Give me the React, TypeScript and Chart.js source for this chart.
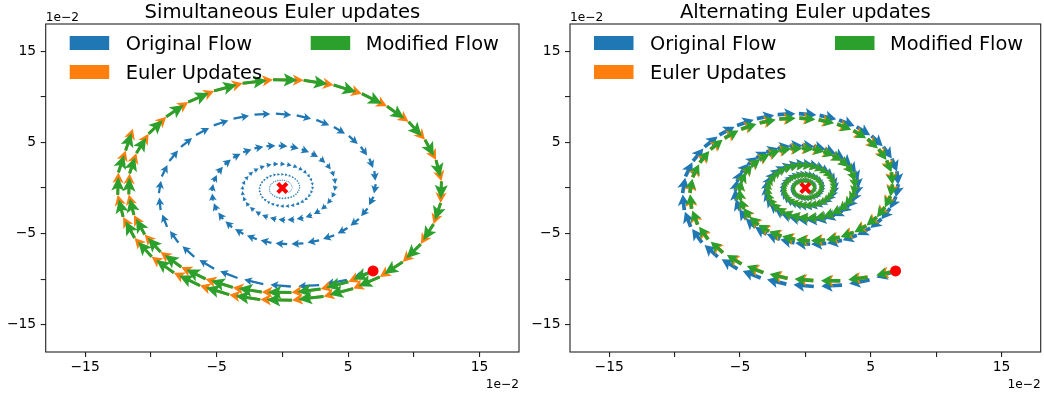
import React, { useEffect, useRef } from 'react';
import { Chart, registerables } from 'chart.js';

Chart.register(...registerables);

type P = [number, number];

// ---------- axis / text data ----------
const AXIS_MIN = -18;
const AXIS_MAX = 18;
const X_TICKS = [-15, -10, -5, 0, 5, 10, 15];
const X_TICK_LABELS = ['\u221215', '', '\u22125', '', '5', '', '15'];
const Y_TICKS = [-15, -10, -5, 0, 5, 10, 15];
const Y_TICK_LABELS = ['\u221215', '', '\u22125', '', '5', '', '15'];
const OFFSET_LABEL = '1e\u22122';
const TITLES = ['Simultaneous Euler updates', 'Alternating Euler updates'];
const SERIES_NAMES = ['Original Flow', 'Euler Updates', 'Modified Flow'];
const SERIES_COLORS = ['#1f77b4', '#ff7f0e', '#2ca02c'];

// ---------- point data (units of 1e-2) ----------
const START_POINT: P = [6.9, -9.1];
const FIXED_POINT: P = [0, 0];

const ORIGINAL_FLOW_PATH: P[] = [
  [6.91,-9.10],[4.91,-10.09],[2.80,-10.67],[0.65,-10.81],[-1.45,-10.55],[-3.41,-9.88],[-5.19,-8.87],[-6.70,-7.55],
  [-7.91,-6.00],[-8.77,-4.27],[-9.26,-2.43],[-9.39,-0.56],[-9.17,1.26],[-8.59,2.96],[-7.71,4.51],[-6.57,5.82],
  [-5.22,6.87],[-3.71,7.61],[-2.12,8.06],[-0.49,8.16],[1.09,7.97],[2.58,7.47],[3.92,6.70],[5.06,5.71],
  [5.97,4.53],[6.62,3.22],[7.00,1.84],[7.10,0.43],[6.93,-0.95],[6.48,-2.24],[5.82,-3.40],[4.96,-4.40],
  [3.94,-5.19],[2.80,-5.75],[1.60,-6.08],[0.37,-6.17],[-0.83,-6.02],[-1.94,-5.63],[-2.96,-5.06],[-3.82,-4.31],
  [-4.51,-3.42],[-5.00,-2.44],[-5.28,-1.39],[-5.36,-0.32],[-5.22,0.72],[-4.90,1.69],[-4.39,2.57],[-3.74,3.32],
  [-2.98,3.92],[-2.12,4.34],[-1.21,4.59],[-0.28,4.65],[0.62,4.54],[1.47,4.25],[2.23,3.81],[2.88,3.25],
  [3.40,2.58],[3.78,1.84],[3.98,1.05],[4.04,0.24],[3.94,-0.54],[3.69,-1.27],[3.31,-1.94],[2.83,-2.51],
  [2.24,-2.96],[1.60,-3.28],[0.91,-3.46],[0.21,-3.51],[-0.47,-3.43],[-1.11,-3.21],[-1.69,-2.88],[-2.17,-2.45],
  [-2.57,-1.95],[-2.85,-1.39],[-3.01,-0.79],[-3.05,-0.18],[-2.98,0.41],[-2.79,0.96],[-2.50,1.46],[-2.13,1.89],
  [-1.69,2.23],[-1.20,2.47],[-0.69,2.62],[-0.16,2.65],[0.35,2.59],[0.84,2.43],[1.27,2.17],[1.64,1.86],
  [1.94,1.47],[2.15,1.05],[2.27,0.60],[2.31,0.14],[2.25,-0.31],[2.11,-0.73],[1.89,-1.11],[1.61,-1.43],
  [1.28,-1.69],[0.91,-1.87],[0.52,-1.97],[0.12,-2.01],[-0.27,-1.95],[-0.63,-1.83],[-0.96,-1.64],[-1.24,-1.40],
  [-1.47,-1.11],[-1.63,-0.79],[-1.71,-0.45],[-1.74,-0.10],[-1.69,0.23],[-1.59,0.55],[-1.42,0.83],[-1.22,1.08],
  [-0.97,1.28],[-0.69,1.41],[-0.39,1.49],[-0.09,1.52],[0.20,1.48],[0.48,1.38],[0.73,1.24],[0.93,1.05],
  [1.11,0.84],[1.22,0.60],[1.30,0.34],[1.32,0.08],[1.28,-0.18],[1.20,-0.41],[1.08,-0.63],[0.92,-0.82],
  [0.73,-0.96],[0.52,-1.07],[0.29,-1.12],[0.07,-1.14],[-0.15,-1.11],[-0.36,-1.04],[-0.55,-0.94],[-0.71,-0.80],
  [-0.84,-0.64],[-0.93,-0.45],[-0.98,-0.26],[-0.99,-0.06],[-0.97,0.13],[-0.91,0.31],[-0.81,0.47],[-0.70,0.62],
  [-0.55,0.73],[-0.39,0.80],[-0.22,0.85],[-0.05,0.86],[0.12,0.84],[0.27,0.78],[0.41,0.71],[0.54,0.61],
  [0.63,0.48],[0.70,0.34],[0.73,0.19],[0.75,0.05],[0.73,-0.10],[0.68,-0.23],[0.61,-0.36],[0.52,-0.46],
];

const SIMULTANEOUS_EULER_PATH: P[] = [
  [6.91,-9.10],[5.02,-10.29],[2.91,-11.09],[0.69,-11.48],[-1.57,-11.42],[-3.77,-10.91],[-5.84,-9.98],[-7.69,-8.68],
  [-9.26,-7.03],[-10.47,-5.10],[-11.29,-2.96],[-11.68,-0.70],[-11.62,1.60],[-11.10,3.83],[-10.17,5.95],[-8.83,7.82],
  [-7.16,9.43],[-5.19,10.66],[-3.02,11.49],[-0.71,11.89],[1.62,11.82],[3.90,11.30],[6.05,10.35],[7.96,8.98],
  [9.60,7.28],[10.85,5.29],[11.69,3.07],[12.10,0.73],[12.04,-1.65],[11.50,-3.97],[10.53,-6.16],[9.15,-8.11],
  [7.41,-9.76],[5.38,-11.04],[3.13,-11.90],[0.74,-12.31],[-1.68,-12.25],[-4.04,-11.71],[-6.27,-10.71],[-8.25,-9.31],
  [-9.94,-7.54],[-11.24,-5.48],[-12.11,-3.18],[-12.52,-0.75],[-12.47,1.71],[-11.92,4.11],
];

const ALTERNATING_EULER_PATH: P[] = [
  [6.91,-9.10],[4.76,-9.79],[2.67,-10.19],[0.61,-10.16],[-1.36,-9.92],[-3.21,-9.29],[-4.88,-8.34],[-6.30,-7.10],
  [-7.44,-5.64],[-8.24,-4.01],[-8.70,-2.28],[-8.83,-0.53],[-8.62,1.18],[-8.07,2.78],[-7.25,4.24],[-6.18,5.47],
  [-4.91,6.46],[-3.49,7.15],[-1.99,7.58],[-0.46,7.67],[1.02,7.49],[2.43,7.02],[3.68,6.30],[4.76,5.37],
  [5.61,4.26],[6.22,3.03],[6.58,1.73],[6.67,0.40],[6.51,-0.89],[6.09,-2.11],[5.47,-3.20],[4.66,-4.14],
  [3.70,-4.88],[2.63,-5.41],[1.50,-5.72],[0.35,-5.80],[-0.78,-5.66],[-1.82,-5.29],[-2.78,-4.76],[-3.59,-4.05],
  [-4.24,-3.21],[-4.70,-2.29],[-4.96,-1.31],[-5.04,-0.30],[-4.91,0.68],[-4.61,1.59],[-4.13,2.42],[-3.52,3.12],
  [-2.80,3.68],[-1.99,4.08],[-1.14,4.31],[-0.26,4.37],[0.58,4.27],[1.38,4.00],[2.10,3.58],[2.71,3.06],
  [3.20,2.43],[3.55,1.73],[3.74,0.99],[3.80,0.23],[3.70,-0.51],[3.47,-1.19],[3.11,-1.82],[2.66,-2.36],
  [2.11,-2.78],[1.50,-3.08],[0.86,-3.25],[0.20,-3.30],[-0.44,-3.22],[-1.04,-3.02],[-1.59,-2.71],[-2.04,-2.30],
  [-2.42,-1.83],[-2.68,-1.31],[-2.83,-0.74],[-2.87,-0.17],[-2.80,0.39],[-2.62,0.90],[-2.35,1.37],[-2.00,1.78],
  [-1.59,2.10],[-1.13,2.32],[-0.65,2.46],[-0.15,2.49],[0.33,2.43],[0.79,2.28],[1.19,2.04],[1.54,1.75],
  [1.82,1.38],[2.02,0.99],[2.13,0.56],[2.17,0.13],[2.12,-0.29],[1.98,-0.69],[1.78,-1.04],[1.51,-1.34],
  [1.20,-1.59],[0.86,-1.76],[0.49,-1.85],[0.11,-1.89],[-0.25,-1.83],[-0.59,-1.72],[-0.90,-1.54],[-1.17,-1.32],
  [-1.38,-1.04],[-1.53,-0.74],[-1.61,-0.42],[-1.64,-0.09],[-1.59,0.22],[-1.49,0.52],[-1.33,0.78],[-1.15,1.02],
  [-0.91,1.20],[-0.65,1.33],[-0.37,1.40],[-0.08,1.43],[0.19,1.39],[0.45,1.30],[0.69,1.17],[0.87,0.99],
  [1.04,0.79],[1.15,0.56],[1.22,0.32],[1.24,0.08],[1.20,-0.17],[1.13,-0.39],[1.02,-0.59],[0.86,-0.77],
  [0.69,-0.90],[0.49,-1.01],[0.27,-1.05],[0.07,-1.07],[-0.14,-1.04],[-0.34,-0.98],[-0.52,-0.88],[-0.67,-0.75],
  [-0.79,-0.60],[-0.87,-0.42],[-0.92,-0.24],[-0.93,-0.06],[-0.91,0.12],[-0.86,0.29],[-0.76,0.44],[-0.66,0.58],
  [-0.52,0.69],[-0.37,0.75],[-0.21,0.80],[-0.05,0.81],[0.11,0.79],[0.25,0.73],[0.39,0.67],[0.51,0.57],
  [0.59,0.45],[0.66,0.32],[0.69,0.18],[0.71,0.05],[0.69,-0.09],[0.64,-0.22],[0.57,-0.34],[0.49,-0.43],
];

// ---------- styles ----------
const FONT = "'DejaVu Sans', 'Liberation Sans', sans-serif";
const CANVAS_W = 522;
const CANVAS_H = 398;

// w: shaft width px; hw/hl/hal: head width/length/axis-length in shaft widths;
// drawn length = k * (step length in px) ^ gamma
type QStyle = { w: number; hw: number; hl: number; hal: number; k: number; gamma: number };

const PANELS = [
  {
    title: TITLES[0],
    yAxisWidth: 45.7,
    rightPad: 3,
    paths: [ORIGINAL_FLOW_PATH, SIMULTANEOUS_EULER_PATH, SIMULTANEOUS_EULER_PATH],
    styles: [
      { w: 2.3, hw: 3.6, hl: 3.4, hal: 2.8, k: 0.74, gamma: 1 },
      { w: 2.7, hw: 4.2, hl: 4.0, hal: 3.2, k: 1.0, gamma: 1 },
      { w: 3.0, hw: 4.4, hl: 4.6, hal: 3.8, k: 0.8, gamma: 1 },
    ] as QStyle[],
  },
  {
    title: TITLES[1],
    yAxisWidth: 48,
    rightPad: 3.3,
    paths: [ORIGINAL_FLOW_PATH, ALTERNATING_EULER_PATH, ALTERNATING_EULER_PATH],
    styles: [
      { w: 3.7, hw: 3.3, hl: 3.0, hal: 2.5, k: 3.3, gamma: 0.55 },
      { w: 3.7, hw: 3.3, hl: 3.0, hal: 2.5, k: 2.95, gamma: 0.55 },
      { w: 3.5, hw: 3.3, hl: 3.0, hal: 2.5, k: 3.15, gamma: 0.55 },
    ] as QStyle[],
  },
];

function drawArrow(ctx: CanvasRenderingContext2D, x0: number, y0: number, ang: number, L: number, q: QStyle) {
  if (L < 0.4) return;
  const w = q.w;
  const minsh = q.hl * w;
  let X: number[];
  let Y: number[];
  if (L >= minsh) {
    X = [0, L - q.hal * w, L - q.hl * w, L, L - q.hl * w, L - q.hal * w, 0];
    Y = [0.5 * w, 0.5 * w, 0.5 * q.hw * w, 0, -0.5 * q.hw * w, -0.5 * w, -0.5 * w];
  } else {
    const s = L / minsh;
    X = [0, (q.hl - q.hal) * w, 0, q.hl * w, 0, (q.hl - q.hal) * w, 0].map((v) => v * s);
    Y = [0.5 * w, 0.5 * w, 0.5 * q.hw * w, 0, -0.5 * q.hw * w, -0.5 * w, -0.5 * w].map((v) => v * s);
  }
  const c = Math.cos(ang);
  const sn = Math.sin(ang);
  ctx.beginPath();
  for (let k = 0; k < 7; k++) {
    const px = x0 + X[k] * c - Y[k] * sn;
    const py = y0 + X[k] * sn + Y[k] * c;
    if (k === 0) ctx.moveTo(px, py);
    else ctx.lineTo(px, py);
  }
  ctx.closePath();
  ctx.fill();
}

const quiverPlugin = {
  id: 'quiverPanel',
  beforeDatasetsDraw(chart: any) {
    const { ctx, chartArea: a, scales } = chart;
    const xs = scales.x;
    const ys = scales.y;
    ctx.save();
    ctx.beginPath();
    ctx.rect(a.left, a.top, a.right - a.left, a.bottom - a.top);
    ctx.clip();
    chart.data.datasets.forEach((ds: any) => {
      const q: QStyle = ds.quiver;
      if (!q) return;
      const pts = ds.data;
      ctx.fillStyle = ds.quiverColor;
      for (let i = 0; i < pts.length; i++) {
        const p = pts[i];
        const n = i < pts.length - 1 ? pts[i + 1] : null;
        const dx = n ? n.x - p.x : p.x - pts[i - 1].x;
        const dy = n ? n.y - p.y : p.y - pts[i - 1].y;
        const x0 = xs.getPixelForValue(p.x);
        const y0 = ys.getPixelForValue(p.y);
        const x1 = xs.getPixelForValue(p.x + dx);
        const y1 = ys.getPixelForValue(p.y + dy);
        const L = Math.hypot(x1 - x0, y1 - y0);
        const ang = Math.atan2(y1 - y0, x1 - x0);
        drawArrow(ctx, x0, y0, ang, q.k * Math.pow(L, q.gamma), q);
      }
    });
    ctx.restore();
  },
  afterDraw(chart: any) {
    const { ctx, chartArea: a } = chart;
    const title = chart.options.plugins.panelTitle;
    ctx.save();
    // frame
    ctx.strokeStyle = '#222';
    ctx.lineWidth = 1.1;
    ctx.strokeRect(a.left, a.top, a.right - a.left, a.bottom - a.top);
    // title
    ctx.fillStyle = '#000';
    ctx.textBaseline = 'alphabetic';
    ctx.textAlign = 'center';
    ctx.font = `19.6px ${FONT}`;
    ctx.fillText(title, (a.left + a.right) / 2, 17.5);
    // offset labels
    ctx.font = `12.2px ${FONT}`;
    ctx.textAlign = 'left';
    ctx.fillText(OFFSET_LABEL, a.left, 20.8);
    ctx.textAlign = 'right';
    ctx.fillText(OFFSET_LABEL, a.right, 387.5);
    // legend
    const items = [
      { dx: 24, ty: 50, px: 80 },
      { dx: 24, ty: 79, px: 80 },
      { dx: 265, ty: 50, px: 320 },
    ];
    ctx.font = `19.4px ${FONT}`;
    ctx.textAlign = 'left';
    items.forEach((it, i) => {
      ctx.fillStyle = SERIES_COLORS[i];
      ctx.fillRect(a.left + it.dx, it.ty - 14, 39.5, 14);
      ctx.fillStyle = '#000';
      ctx.fillText(SERIES_NAMES[i], a.left + it.px, it.ty);
    });
    ctx.restore();
  },
};

function zeroPad(s: any) {
  s.paddingLeft = 0;
  s.paddingRight = 0;
  s.paddingTop = 0;
  s.paddingBottom = 0;
}

function makeConfig(panel: typeof PANELS[number]) {
  const datasets: any[] = panel.paths.map((path, i) => ({
    label: SERIES_NAMES[i],
    data: path.map(([x, y]) => ({ x, y })),
    pointRadius: 0,
    pointHoverRadius: 0,
    showLine: false,
    quiver: panel.styles[i],
    quiverColor: SERIES_COLORS[i],
  }));
  datasets.push({
    label: 'fixed point',
    data: [{ x: FIXED_POINT[0], y: FIXED_POINT[1] }],
    pointStyle: 'crossRot',
    pointRadius: 6.5,
    borderWidth: 4,
    borderColor: '#ff0000',
    backgroundColor: '#ff0000',
  });
  datasets.push({
    label: 'start',
    data: [{ x: START_POINT[0], y: START_POINT[1] }],
    pointStyle: 'circle',
    pointRadius: 5.5,
    borderWidth: 0,
    backgroundColor: '#ff0000',
  });
  const tickFont = { family: FONT, size: 13.9 };
  return {
    type: 'scatter' as const,
    data: { datasets },
    options: {
      animation: false,
      responsive: false,
      devicePixelRatio: 1,
      events: [],
      layout: { autoPadding: false, padding: { top: 24, right: panel.rightPad, left: 0, bottom: 0 } },
      plugins: {
        legend: { display: false },
        tooltip: { enabled: false },
        title: { display: false },
        panelTitle: panel.title,
      },
      scales: {
        x: {
          type: 'linear',
          min: AXIS_MIN,
          max: AXIS_MAX,
          afterBuildTicks: (s: any) => {
            s.ticks = X_TICKS.map((v) => ({ value: v }));
          },
          afterFit: (s: any) => {
            s.height = 46;
            zeroPad(s);
          },
          grid: { display: true, drawOnChartArea: false, drawTicks: true, tickLength: 5, color: '#222', lineWidth: 1.1 },
          border: { display: false },
          ticks: {
            autoSkip: false,
            maxRotation: 0,
            minRotation: 0,
            padding: 2,
            color: '#000',
            font: tickFont,
            callback: (v: number) => X_TICK_LABELS[X_TICKS.indexOf(v)] ?? '',
          },
        },
        y: {
          type: 'linear',
          min: AXIS_MIN,
          max: AXIS_MAX,
          afterBuildTicks: (s: any) => {
            s.ticks = Y_TICKS.map((v) => ({ value: v }));
          },
          afterFit: (s: any) => {
            s.width = panel.yAxisWidth;
            zeroPad(s);
          },
          grid: { display: true, drawOnChartArea: false, drawTicks: true, tickLength: 5, color: '#222', lineWidth: 1.1 },
          border: { display: false },
          ticks: {
            autoSkip: false,
            padding: 4.5,
            color: '#000',
            font: tickFont,
            callback: (v: number) => Y_TICK_LABELS[Y_TICKS.indexOf(v)] ?? '',
          },
        },
      },
    },
    plugins: [quiverPlugin],
  };
}

function Panel({ index }: { index: number }) {
  const ref = useRef<HTMLCanvasElement>(null);
  useEffect(() => {
    if (!ref.current) return;
    const chart = new Chart(ref.current, makeConfig(PANELS[index]) as any);
    return () => chart.destroy();
  }, [index]);
  return (
    <canvas
      ref={ref}
      width={CANVAS_W}
      height={CANVAS_H}
      style={{ display: 'block', width: CANVAS_W, height: CANVAS_H }}
    />
  );
}

export default function App() {
  return (
    <div style={{ position: 'absolute', left: 0, top: 0, width: 1044, height: 398, background: '#fff' }}>
      <div style={{ position: 'absolute', left: 0, top: 0 }}>
        <Panel index={0} />
      </div>
      <div style={{ position: 'absolute', left: 522, top: 0 }}>
        <Panel index={1} />
      </div>
    </div>
  );
}
